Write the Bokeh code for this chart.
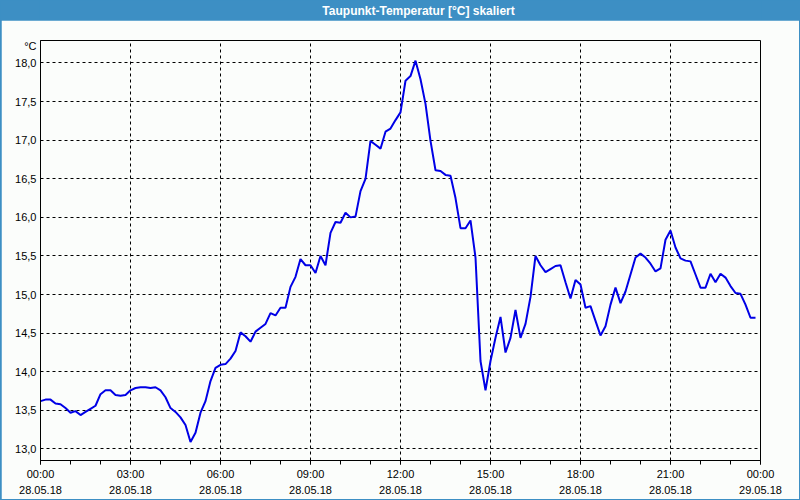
from bokeh.plotting import figure
from bokeh.layouts import column
from bokeh.models import FixedTicker, Range1d
from bokeh.core.properties import value
from bokeh.embed import file_html
from bokeh.resources import INLINE

title_text = "Taupunkt-Temperatur [°C] skaliert"
unit_label = "°C"

# dew point readings every 10 minutes, 28.05.18 00:00 .. 23:50
dewpoint = [
    13.62, 13.64, 13.64, 13.59, 13.58, 13.53, 13.47, 13.49, 13.44, 13.48,
    13.52, 13.56, 13.71, 13.76, 13.76, 13.70, 13.69, 13.70, 13.76, 13.79,
    13.80, 13.80, 13.79, 13.80, 13.76, 13.67, 13.53, 13.48, 13.41, 13.31,
    13.09, 13.21, 13.47, 13.62, 13.88, 14.05, 14.09, 14.10, 14.17, 14.27,
    14.51, 14.46, 14.39, 14.52, 14.57, 14.62, 14.76, 14.73, 14.83, 14.83,
    15.10, 15.23, 15.46, 15.38, 15.38, 15.28, 15.50, 15.38, 15.80, 15.94,
    15.93, 16.06, 16.00, 16.01, 16.34, 16.50, 16.99, 16.94, 16.89, 17.11,
    17.15, 17.26, 17.36, 17.77, 17.83, 18.03, 17.79, 17.47, 16.99, 16.61,
    16.60, 16.55, 16.54, 16.25, 15.86, 15.86, 15.96, 15.48, 14.14, 13.76,
    14.14, 14.44, 14.71, 14.25, 14.44, 14.80, 14.44, 14.62, 14.97, 15.50,
    15.38, 15.29, 15.33, 15.37, 15.38, 15.16, 14.95, 15.19, 15.13, 14.83,
    14.85, 14.66, 14.47, 14.59, 14.87, 15.09, 14.89, 15.04, 15.26, 15.48,
    15.53, 15.48, 15.40, 15.30, 15.34, 15.71, 15.83, 15.61, 15.47, 15.44,
    15.43, 15.26, 15.09, 15.09, 15.27, 15.16, 15.27, 15.22, 15.11, 15.02,
    15.01, 14.87, 14.70, 14.70,
]
step_minutes = 10
hours = [i * step_minutes / 60 for i in range(len(dewpoint))]

x_tick_hours = [0, 3, 6, 9, 12, 15, 18, 21, 24]
x_tick_labels = [
    "00:00\n28.05.18", "03:00\n28.05.18", "06:00\n28.05.18", "09:00\n28.05.18",
    "12:00\n28.05.18", "15:00\n28.05.18", "18:00\n28.05.18", "21:00\n28.05.18",
    "00:00\n29.05.18",
]
x_minor_hours = list(range(0, 25))
y_ticks = [13.0, 13.5, 14.0, 14.5, 15.0, 15.5, 16.0, 16.5, 17.0, 17.5, 18.0]
y_tick_labels = ["13,0", "13,5", "14,0", "14,5", "15,0", "15,5", "16,0", "16,5", "17,0", "17,5", "18,0"]
unit_tick = 18.218

BLUE = "#3d8fc4"
BG = "#fbfdfb"
LINE = "#0000e6"
FONT = "Liberation Sans"

head = figure(width=800, height=20, x_range=Range1d(0, 800), y_range=Range1d(0, 20),
              toolbar_location=None, output_backend="svg", min_border=0,
              x_axis_type=None, y_axis_type=None,
              background_fill_color=BLUE, border_fill_color=BLUE, outline_line_color=None)
head.grid.visible = False
head.text(x=[420], y=[10], text=[title_text], text_color="white",
          text_font=value(FONT), text_font_style="bold", text_font_size="12px",
          text_align="center", text_baseline="middle")

p = figure(width=798, height=479, x_range=Range1d(0, 24), y_range=Range1d(12.851, 18.291),
           toolbar_location=None, output_backend="svg",
           min_border_left=39, min_border_right=39, min_border_top=20, min_border_bottom=39,
           background_fill_color=BG, border_fill_color=BG,
           outline_line_color="black", outline_line_width=1)
p.margin = (0, 1, 1, 1)

p.line(hours, dewpoint, line_color=LINE, line_width=2)

xa = p.xaxis[0]
xa.ticker = FixedTicker(ticks=x_tick_hours, minor_ticks=x_minor_hours)
xa.major_label_overrides = dict(zip(x_tick_hours, x_tick_labels))
xa.major_tick_out = 4
xa.major_tick_in = 0
xa.minor_tick_out = 4
xa.minor_tick_in = 0
xa.major_label_standoff = 3
xa.major_label_text_font = FONT
xa.major_label_text_font_size = "11px"
xa.major_label_text_color = "black"
xa.major_label_text_line_height = 1.35
xa.axis_line_color = "black"
xa.major_tick_line_color = "black"
xa.minor_tick_line_color = "black"

ya = p.yaxis[0]
ya.ticker = FixedTicker(ticks=y_ticks + [unit_tick])
overrides = dict(zip(y_ticks, y_tick_labels))
overrides[unit_tick] = unit_label
ya.major_label_overrides = overrides
ya.major_tick_out = 0
ya.major_tick_in = 0
ya.minor_tick_out = 0
ya.minor_tick_in = 0
ya.major_label_standoff = 4
ya.major_label_text_font = FONT
ya.major_label_text_font_size = "11px"
ya.major_label_text_color = "black"
ya.axis_line_color = "black"

p.xgrid.ticker = FixedTicker(ticks=x_tick_hours)
p.ygrid.ticker = FixedTicker(ticks=y_ticks)
p.grid.grid_line_color = "black"
p.grid.grid_line_dash = "3 3"
p.grid.grid_line_width = 1

layout = column(head, p, styles={"background-color": BLUE})

open("out.html", "w").write(file_html(layout, INLINE))
